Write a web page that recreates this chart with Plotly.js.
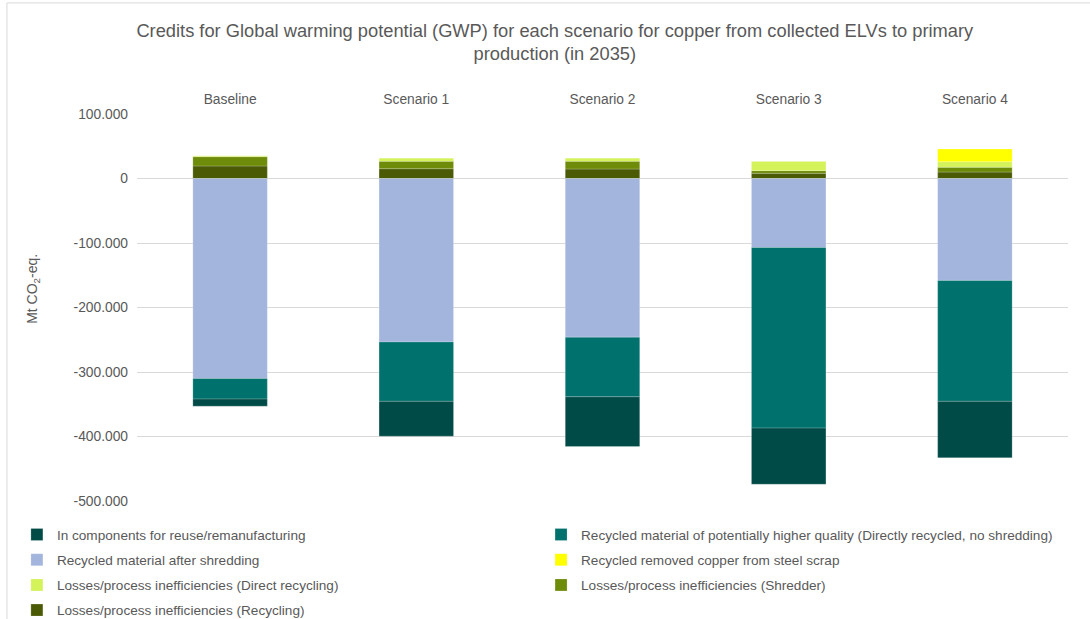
<!DOCTYPE html>
<html>
<head>
<meta charset="utf-8">
<script src="https://cdn.plot.ly/plotly-3.0.1.min.js"></script>
<style>html,body{margin:0;padding:0;background:#fff;}#chart{width:1090px;height:619px;}</style>
</head>
<body>
<div id="chart"></div>
<script>
// ---- data (Mt CO2-eq.) ----
const scenarios = ["Baseline", "Scenario 1", "Scenario 2", "Scenario 3", "Scenario 4"];

const seriesNames = [
  "In components for reuse/remanufacturing",
  "Recycled material of potentially higher quality (Directly recycled, no shredding)",
  "Recycled material after shredding",
  "Recycled removed copper from steel scrap",
  "Losses/process inefficiencies (Direct recycling)",
  "Losses/process inefficiencies (Shredder)",
  "Losses/process inefficiencies (Recycling)"
];

const inComponents      = [-11000, -54000, -77000, -87000, -87500];
const directlyRecycled  = [-32000, -92000, -92500, -280000, -187500];
const afterShredding    = [-310000, -253500, -246000, -107000, -158000];
const removedCopper     = [0, 0, 0, 0, 19700];
const lossesDirect      = [1500, 5000, 5000, 14600, 8700];
const lossesShredder    = [14400, 11500, 12000, 4200, 7300];
const lossesRecycling   = [19400, 15200, 14700, 8000, 10000];

const yTickVals  = [100000, 0, -100000, -200000, -300000, -400000, -500000];
const yTickText  = ["100.000", "0", "-100.000", "-200.000", "-300.000", "-400.000", "-500.000"];
const yAxisTitle = "Mt CO<sub>2</sub>-eq.";

// ---- styling ----
const colors = {
  inComponents: "#004B47",
  directlyRecycled: "#00716C",
  afterShredding: "#A3B5DC",
  removedCopper: "#FFFF00",
  lossesDirect: "#D4F25A",
  lossesShredder: "#6E8B0A",
  lossesRecycling: "#4A5A05"
};

function bar(name, y, color, legendId, rank) {
  return {
    type: "bar", name: name, x: scenarios, y: y,
    marker: {color: color, line: {color: "rgba(255,255,255,0.35)", width: 0.6}},
    width: 0.4,
    legend: legendId, legendrank: rank, legendgroup: "g" + rank + legendId,
    hoverinfo: "name+y"
  };
}

// trace order = stacking order from zero outwards
const traces = [
  bar(seriesNames[6], lossesRecycling, colors.lossesRecycling, "legend", 4),
  bar(seriesNames[5], lossesShredder, colors.lossesShredder, "legend2", 3),
  bar(seriesNames[4], lossesDirect, colors.lossesDirect, "legend", 3),
  bar(seriesNames[3], removedCopper, colors.removedCopper, "legend2", 2),
  bar(seriesNames[2], afterShredding, colors.afterShredding, "legend", 2),
  bar(seriesNames[1], directlyRecycled, colors.directlyRecycled, "legend2", 1),
  bar(seriesNames[0], inComponents, colors.inComponents, "legend", 1)
];

const txtColor = "#595959";
const legendBase = {
  orientation: "v", traceorder: "grouped", tracegroupgap: 4.5,
  xanchor: "left", y: -0.047, yanchor: "top",
  font: {size: 13.6, color: txtColor},
  itemwidth: 30, bgcolor: "rgba(0,0,0,0)", borderwidth: 0
};

const layout = {
  width: 1090, height: 619,
  paper_bgcolor: "#ffffff", plot_bgcolor: "#ffffff",
  font: {family: "Liberation Sans, Arial, sans-serif", size: 13, color: txtColor},
  margin: {l: 137, r: 22, t: 114, b: 118, autoexpand: false},
  barmode: "relative",
  title: {
    text: "Credits for Global warming potential (GWP) for each scenario for copper from collected ELVs to primary<br>production (in 2035)",
    font: {size: 18.3, color: txtColor},
    x: 0.509, xanchor: "center", y: 0.941, yanchor: "top"
  },
  xaxis: {
    side: "top", showgrid: false, zeroline: false, showline: false,
    ticks: "", ticklabelstandoff: 6, tickfont: {size: 13.8, color: txtColor}, fixedrange: true
  },
  yaxis: {
    range: [-500000, 100000],
    tickvals: yTickVals, ticktext: yTickText,
    showgrid: true, gridcolor: "#D9D9D9", gridwidth: 1,
    zeroline: true, zerolinecolor: "#D9D9D9", zerolinewidth: 1,
    showline: false, ticks: "", ticklen: 0, ticklabelstandoff: 8,
    tickfont: {size: 13.8, color: txtColor},
    fixedrange: true
  },
  annotations: [
    {text: yAxisTitle, xref: "paper", yref: "paper", x: -0.1118, y: 0.548,
     textangle: -90, showarrow: false, xanchor: "center", yanchor: "middle",
     font: {size: 14, color: txtColor}}
  ],
  showlegend: true,
  legend: Object.assign({}, legendBase, {x: -0.129}),
  legend2: Object.assign({}, legendBase, {x: 0.434}),
  shapes: [
    {type: "line", xref: "paper", yref: "paper", x0: -0.1397, x1: -0.1397, y0: 1.287, y1: -0.31,
     line: {color: "#D9D9D9", width: 1}},
    {type: "line", xref: "paper", yref: "paper", x0: -0.1397, x1: 1.03, y0: 1.287, y1: 1.287,
     line: {color: "#D9D9D9", width: 1}}
  ]
};

Plotly.newPlot("chart", traces, layout, {displayModeBar: false, staticPlot: true});
</script>
</body>
</html>
